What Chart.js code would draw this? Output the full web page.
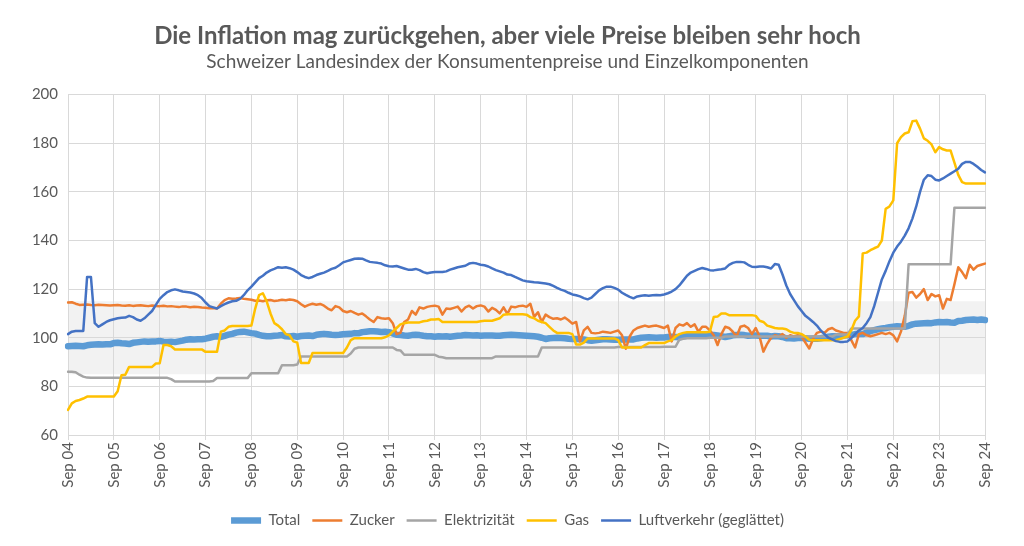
<!DOCTYPE html>
<html><head><meta charset="utf-8">
<script src="https://cdn.jsdelivr.net/npm/chart.js@4/dist/chart.umd.min.js"></script>
<style>html,body{margin:0;padding:0;background:#fff}#wrap{width:1024px;height:546px}</style>
</head><body><div id="wrap"><canvas id="c" width="1024" height="546"></canvas></div>
<script>
const TICK_LABELS = ['Sep 04','Sep 05','Sep 06','Sep 07','Sep 08','Sep 09','Sep 10','Sep 11','Sep 12','Sep 13','Sep 14','Sep 15','Sep 16','Sep 17','Sep 18','Sep 19','Sep 20','Sep 21','Sep 22','Sep 23','Sep 24'];
const SERIES_NAMES = ['Total','Zucker','Elektrizität','Gas','Luftverkehr (geglättet)'];
const BAND = [85, 115];

const TOTAL = [
96.5,96.6,96.7,96.6,96.5,96.9,97.1,97.2,97.3,97.2,97.3,97.3,
97.8,97.9,97.7,97.6,97.4,97.9,98.1,98.3,98.5,98.4,98.5,98.5,
98.7,98.4,98.3,98.4,98.2,98.5,98.8,99.2,99.4,99.3,99.4,99.4,
99.6,100.0,100.4,100.6,100.3,100.8,101.3,101.6,102.1,102.4,102.5,102.2,
101.9,101.7,101.2,100.8,100.6,100.6,100.8,100.9,101.1,100.6,100.5,100.7,
100.4,100.7,100.8,100.9,100.7,101.2,101.4,101.6,101.4,101.2,101.1,101.2,
101.4,101.5,101.6,101.9,101.8,102.3,102.5,102.7,102.7,102.6,102.4,102.5,
102.3,101.8,101.2,101.1,100.9,100.8,101.1,101.2,101.1,100.8,100.6,100.6,
100.4,100.6,100.5,100.6,100.4,100.6,100.8,100.9,101.1,101.0,100.9,101.0,
100.8,100.9,100.9,100.9,100.8,100.8,101.0,101.1,101.2,101.1,101.0,100.9,
100.8,100.7,100.6,100.4,100.0,99.5,99.8,99.9,100.0,99.9,99.8,99.6,
99.5,99.5,99.4,99.3,99.0,98.8,99.0,99.2,99.4,99.4,99.3,99.2,
99.2,99.3,99.3,99.3,99.3,99.7,100.0,100.1,100.2,100.1,100.0,100.1,
100.1,100.3,100.4,100.3,100.2,100.6,100.8,100.9,101.1,101.2,101.1,101.2,
101.2,101.1,100.9,100.6,100.3,100.6,101.0,101.1,101.2,101.1,100.8,100.9,
100.9,100.8,100.8,100.8,100.5,100.7,100.6,100.3,99.8,99.8,99.7,99.9,
99.9,99.8,99.6,99.7,99.6,99.8,100.1,100.4,100.6,100.6,100.6,100.9,
101.0,101.2,101.5,101.6,101.5,102.1,102.7,103.1,103.5,103.8,104.0,104.3,
104.5,104.7,104.6,104.5,104.9,105.5,105.8,105.9,106.0,106.1,106.0,106.3,
106.5,106.4,106.5,106.3,106.2,106.9,107.0,107.3,107.4,107.5,107.3,107.5,
107.3];

const ZUCKER = [
114.5,114.6,114.0,113.5,113.6,113.7,113.5,113.4,113.6,113.5,113.4,113.3,
113.4,113.5,113.3,113.2,113.4,113.1,113.3,113.4,113.2,113.0,113.3,113.1,
113.0,113.2,112.9,113.0,112.8,112.6,112.9,112.8,112.5,112.7,112.6,112.4,
112.3,112.1,112.2,112.0,114.0,115.5,116.2,116.0,116.1,116.3,116.0,115.8,
115.6,115.2,115.3,115.0,115.4,115.5,115.1,115.3,115.6,115.4,115.7,115.5,
115.0,113.8,112.8,113.5,114.0,113.6,113.9,113.2,112.0,111.3,113.0,112.5,
111.0,110.5,111.0,110.2,109.5,110.0,108.8,107.5,106.5,108.5,108.0,107.8,
108.0,106.0,101.5,102.0,106.5,107.5,111.0,109.5,112.5,112.0,112.7,113.0,
113.2,112.8,109.5,112.0,111.8,112.3,112.8,110.8,112.5,113.2,112.0,113.0,
113.3,112.8,110.8,112.3,111.5,110.0,112.5,109.8,112.8,112.5,113.0,113.2,
112.7,114.0,108.6,110.5,106.5,109.5,108.5,107.8,108.0,107.5,108.3,107.2,
105.8,106.5,98.5,103.0,104.5,102.0,101.8,102.0,102.5,102.3,102.0,102.5,
103.0,101.0,95.5,100.5,103.0,104.0,104.5,105.0,104.5,104.8,105.0,104.5,
104.0,105.0,98.5,104.0,105.5,105.0,106.0,104.5,105.5,102.5,104.5,104.5,
103.0,101.0,97.0,101.5,104.5,104.0,102.5,100.5,104.5,105.0,104.0,101.5,
104.0,100.5,94.3,97.5,100.0,101.0,100.5,101.5,100.0,101.0,100.5,101.0,
100.5,98.0,95.6,99.5,102.0,102.5,102.0,103.5,104.0,103.0,102.5,102.0,
102.0,99.0,96.0,101.5,102.0,101.0,100.6,101.0,101.5,102.0,101.5,102.0,
101.0,98.5,102.5,109.0,118.5,118.8,116.5,118.0,120.0,115.5,118.0,117.0,
117.5,112.0,116.0,115.5,122.0,129.0,127.0,124.5,130.0,128.0,129.5,130.0,
130.5];

const ELEKTRIZITAET = [
86.0,86.0,85.8,84.8,84.0,83.6,83.5,83.5,83.5,83.5,83.5,83.5,
83.5,83.5,83.5,83.5,83.5,83.5,83.5,83.5,83.5,83.5,83.5,83.5,
83.5,83.5,83.5,83.0,82.0,82.0,82.0,82.0,82.0,82.0,82.0,82.0,
82.0,82.0,82.2,83.4,83.4,83.4,83.4,83.4,83.4,83.4,83.4,83.4,
85.4,85.4,85.4,85.4,85.4,85.4,85.4,85.4,88.7,88.7,88.7,88.7,
89.0,92.3,92.3,92.3,92.3,92.3,92.3,92.3,92.3,92.3,92.3,92.3,
92.3,92.3,93.5,95.5,96.0,96.0,96.0,96.0,96.0,96.0,96.0,96.0,
96.0,96.0,95.0,94.8,93.0,93.0,93.0,93.0,93.0,93.0,93.0,93.0,
93.0,92.2,92.0,91.6,91.6,91.6,91.6,91.6,91.6,91.6,91.6,91.6,
91.6,91.6,91.6,91.6,92.3,92.3,92.3,92.3,92.3,92.3,92.3,92.3,
92.3,92.3,92.3,92.3,96.0,96.0,96.0,96.0,96.0,96.0,96.0,96.0,
96.0,96.0,96.0,96.0,96.0,96.0,96.0,96.0,96.0,96.0,96.0,96.0,
96.2,96.2,96.2,96.2,96.2,96.2,96.2,96.2,96.2,96.2,96.2,96.2,
96.3,96.3,96.3,96.3,99.2,99.6,99.8,99.8,99.8,99.8,99.8,99.8,
100.0,100.0,100.0,100.0,100.5,100.5,100.5,100.5,100.5,100.5,100.5,100.5,
100.5,100.5,100.5,100.5,100.5,100.5,100.5,100.5,100.5,100.5,100.5,100.5,
100.5,100.5,100.5,100.5,100.5,100.5,100.5,100.5,100.5,101.3,101.3,101.3,
101.3,103.8,103.8,103.8,103.8,103.8,103.8,103.8,103.8,103.8,103.8,103.8,
103.8,103.8,103.8,103.8,130.2,130.2,130.2,130.2,130.2,130.2,130.2,130.2,
130.2,130.2,130.2,130.2,153.5,153.5,153.5,153.5,153.5,153.5,153.5,153.5,
153.5];

const GAS = [
70.3,73.0,74.0,74.4,75.0,75.8,75.8,75.8,75.8,75.8,75.8,75.8,
75.8,78.0,84.6,84.8,88.0,88.0,88.0,88.0,88.0,88.0,88.0,89.4,
89.5,97.0,97.0,96.5,95.2,95.2,95.2,95.2,95.2,95.2,95.2,95.2,
94.2,94.2,94.2,94.2,102.5,103.0,104.5,104.8,104.8,104.8,104.8,104.8,
105.0,112.0,117.5,118.3,115.0,110.0,106.0,105.0,103.5,101.5,101.0,98.5,
98.0,89.6,89.6,89.6,93.7,93.7,93.7,93.7,93.7,93.7,93.7,93.7,
93.7,96.0,99.0,99.8,99.8,99.8,99.8,99.8,99.8,99.8,99.8,100.2,
101.0,102.5,104.0,105.5,106.0,106.3,106.3,106.3,106.3,106.8,107.0,107.5,
107.5,107.7,106.5,106.5,106.5,106.5,106.5,106.5,106.5,106.5,106.5,106.5,
106.8,107.0,107.0,107.0,107.5,108.0,109.5,109.7,109.7,109.7,109.7,109.7,
109.5,108.5,108.0,107.0,106.5,106.0,104.5,103.0,102.0,102.0,102.0,102.0,
101.5,97.2,97.2,98.0,99.7,99.7,99.7,99.7,99.7,99.7,99.7,99.7,
99.0,96.0,96.0,96.0,96.0,96.0,96.0,97.0,97.8,97.8,97.8,97.8,
97.8,98.5,99.0,100.5,101.5,102.0,102.3,102.3,102.3,102.3,102.3,102.3,
102.5,108.5,108.7,110.0,110.0,109.3,109.3,109.3,109.3,109.3,109.3,109.3,
109.0,107.0,106.5,105.0,104.5,104.0,103.8,103.8,103.5,102.5,102.0,102.0,
101.5,100.5,99.2,99.0,99.0,99.0,99.0,99.0,99.0,99.0,99.5,100.0,
100.5,103.0,107.0,108.8,134.7,135.0,136.0,136.8,137.5,140.0,153.0,154.0,
156.5,180.0,182.5,184.0,184.5,189.0,189.3,186.0,182.0,181.0,179.5,176.3,
178.4,177.5,177.0,177.0,172.0,167.0,164.0,163.4,163.4,163.4,163.4,163.4,
163.4];

const LUFTVERKEHR = [
101.5,102.5,102.8,102.8,102.8,125.0,125.0,106.0,104.5,105.5,106.5,107.2,
107.6,108.0,108.2,108.3,109.0,108.5,107.5,107.0,108.0,109.5,111.0,113.5,
116.0,117.5,118.8,119.5,119.9,119.5,119.0,118.8,118.6,118.2,117.5,116.3,
114.5,113.0,112.5,112.0,113.0,113.8,114.5,115.0,115.2,116.0,117.5,119.5,
121.0,122.8,124.5,125.5,126.8,127.7,128.3,129.0,128.8,129.0,128.6,128.0,
127.0,125.8,125.0,124.5,125.0,125.8,126.3,126.8,127.5,128.3,128.8,129.8,
131.0,131.5,132.0,132.5,132.6,132.5,131.8,131.2,131.0,130.8,130.5,129.8,
129.4,129.3,129.5,129.0,128.5,128.0,128.0,128.3,127.8,127.0,126.5,126.8,
127.0,127.0,127.0,127.3,128.0,128.5,129.0,129.3,129.6,130.5,130.8,130.5,
130.0,129.8,129.3,128.5,127.8,127.3,126.8,126.0,125.8,125.0,124.3,123.6,
123.2,123.0,122.8,122.7,122.5,122.3,122.0,121.3,120.5,119.8,119.3,118.5,
117.8,117.5,117.0,116.3,115.8,116.5,118.0,119.5,120.4,121.0,121.0,120.5,
119.8,118.5,117.6,116.8,116.2,117.0,117.3,117.5,117.3,117.5,117.6,117.5,
117.8,118.3,119.0,120.0,121.5,123.5,125.5,126.8,127.5,128.2,128.7,128.3,
127.8,127.7,128.0,128.2,128.5,130.0,130.8,131.2,131.2,131.0,130.0,129.2,
129.1,129.3,129.3,129.0,128.5,130.3,130.0,126.0,121.5,118.0,115.5,113.0,
111.0,109.0,107.8,106.5,105.0,103.0,101.5,100.0,99.3,98.6,98.3,98.3,
98.5,99.8,101.5,103.0,104.0,106.0,108.5,113.0,118.5,124.0,127.5,131.5,
135.0,137.5,139.5,142.0,145.0,149.0,154.0,160.0,165.0,166.8,166.5,165.0,
164.7,165.5,166.5,167.5,168.5,169.5,171.5,172.3,172.3,171.5,170.3,169.0,
168.0];

const FONT = 'Lato, "Open Sans", sans-serif';
const TXT = '#595959';
const labels = TOTAL.map((_, i) => (i % 12 === 0 ? TICK_LABELS[i / 12] : ''));

const bandPlugin = {
  id: 'band',
  beforeDraw(chart) {
    const { ctx, chartArea, scales } = chart;
    if (!chartArea) return;
    const yTop = scales.y.getPixelForValue(BAND[1]);
    const yBot = scales.y.getPixelForValue(BAND[0]);
    ctx.save();
    ctx.fillStyle = '#F2F2F2';
    ctx.fillRect(chartArea.left, yTop, chartArea.right - chartArea.left, yBot - yTop);
    ctx.restore();
  }
};

const mk = (label, data, color, width, order) => ({
  label, data, borderColor: color, backgroundColor: color, borderWidth: width,
  pointRadius: 0, pointHoverRadius: 0, tension: 0, fill: false, order,
  borderCapStyle: 'round', borderJoinStyle: 'round'
});

new Chart(document.getElementById('c'), {
  type: 'line',
  data: {
    labels,
    datasets: [
      mk(SERIES_NAMES[0], TOTAL, '#5B9BD5', 6.5, 5),
      mk(SERIES_NAMES[1], ZUCKER, '#ED7D31', 2.5, 4),
      mk(SERIES_NAMES[2], ELEKTRIZITAET, '#A5A5A5', 2.5, 3),
      mk(SERIES_NAMES[3], GAS, '#FFC000', 2.5, 2),
      mk(SERIES_NAMES[4], LUFTVERKEHR, '#4472C4', 2.5, 1)
    ]
  },
  options: {
    responsive: false,
    animation: false,
    events: [],
    layout: { padding: { top: 10, left: 30, right: 39, bottom: 8 } },
    plugins: {
      title: {
        display: true,
        text: 'Die Inflation mag zurückgehen, aber viele Preise bleiben sehr hoch',
        color: TXT,
        font: { family: FONT, size: 24, weight: 'bold' },
        padding: { top: 12, bottom: 0 }
      },
      subtitle: {
        display: true,
        text: 'Schweizer Landesindex der Konsumentenpreise und Einzelkomponenten',
        color: TXT,
        font: { family: FONT, size: 19 },
        padding: { top: 0, bottom: 21 }
      },
      legend: {
        position: 'bottom',
        labels: {
          color: TXT,
          font: { family: FONT, size: 15 },
          usePointStyle: true,
          pointStyle: 'line',
          pointStyleWidth: 30,
          padding: 12,
          sort: (a, b) => a.datasetIndex - b.datasetIndex
        }
      },
      tooltip: { enabled: false }
    },
    scales: {
      x: {
        type: 'category',
        offset: false,
        grid: {
          color: '#D9D9D9', lineWidth: 1, drawTicks: true, tickLength: 5
        },
        border: { color: '#D9D9D9' },
        ticks: {
          autoSkip: false, minRotation: 90, maxRotation: 90, padding: 2,
          color: TXT, font: { family: FONT, size: 15 },
          callback: (v, i) => (i % 12 === 0 ? TICK_LABELS[i / 12] : null)
        },
        afterFit: (s) => { s.height = 66; }
      },
      y: {
        min: 60, max: 200,
        grid: { color: '#D9D9D9', lineWidth: 1, drawTicks: false },
        border: { display: false },
        ticks: { stepSize: 20, padding: 10, color: TXT, font: { family: FONT, size: 15 } },
        afterFit: (s) => { s.width = 38; }
      }
    }
  },
  plugins: [bandPlugin]
});
</script>
</body></html>
